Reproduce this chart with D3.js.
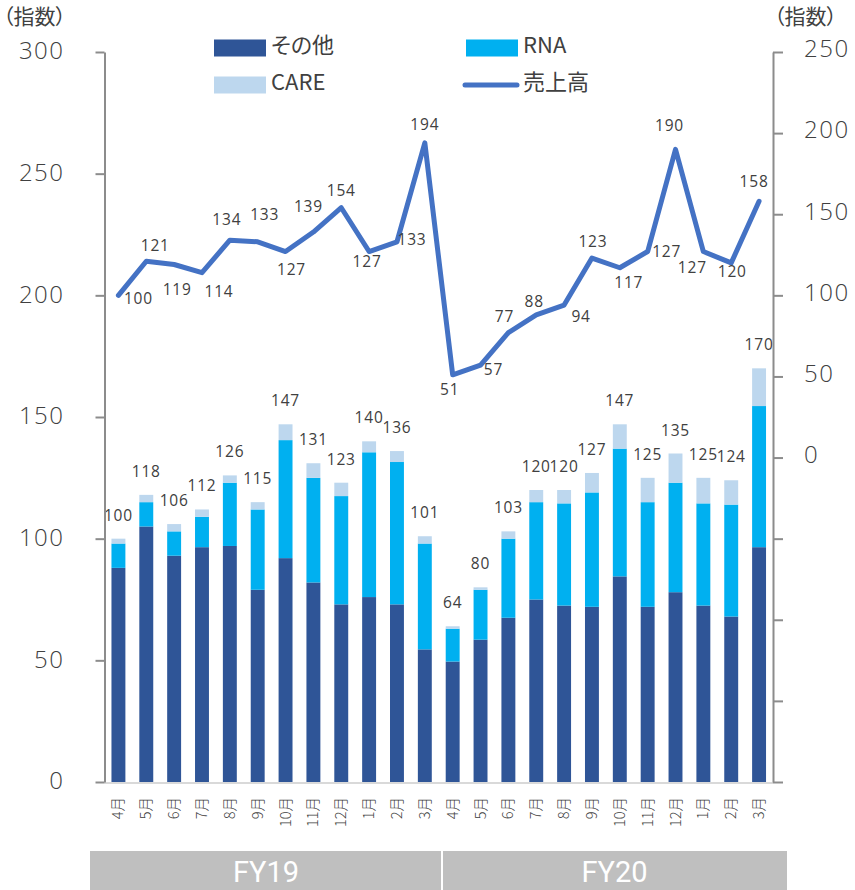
<!DOCTYPE html>
<html lang="ja">
<head>
<meta charset="utf-8">
<script src="https://cdn.jsdelivr.net/npm/d3@7"></script>
<style>
  html, body { margin: 0; padding: 0; background: #fff; }
  svg { display: block; }
  .num { font-family: "Open Sans", "Noto Sans", sans-serif; fill: #404040; }
  .jp { font-family: "Noto Sans CJK JP", sans-serif; fill: #404040; font-feature-settings: "palt"; }
</style>
</head>
<body>
<div id="chart"></div>
<script>
// Monthly categories, two fiscal years
const months = ["4月","5月","6月","7月","8月","9月","10月","11月","12月","1月","2月","3月",
                "4月","5月","6月","7月","8月","9月","10月","11月","12月","1月","2月","3月"];
const fiscalYears = ["FY19", "FY20"];

// Stacked bar segments (index, left axis)
const otherValues = [88, 105, 93, 96.5, 97, 79, 92, 82, 73, 76, 73, 54.5,
                     49.5, 58.5, 67.5, 75, 72.5, 72, 84.5, 72, 78, 72.5, 68, 96.5];
const rnaValues   = [10, 10, 10, 12.5, 26, 33, 48.5, 43, 44.5, 59.5, 58.5, 43.5,
                     13.5, 20.5, 32.5, 40, 42, 47, 52.5, 43, 45, 42, 46, 58];
const careValues  = [2, 3, 3, 3, 3, 3, 6.5, 6, 5.5, 4.5, 4.5, 3,
                     1, 1, 3, 5, 5.5, 8, 10, 10, 12, 10.5, 10, 15.5];
const barTotals   = [100, 118, 106, 112, 126, 115, 147, 131, 123, 140, 136, 101,
                     64, 80, 103, 120, 120, 127, 147, 125, 135, 125, 124, 170];

// Sales index (right axis)
const salesValues = [100, 121, 119, 114, 134, 133, 127, 139, 154, 127, 133, 194,
                     51, 57, 77, 88, 94, 123, 117, 127, 190, 127, 120, 158];

// Tick values
const leftTicks  = [0, 50, 100, 150, 200, 250, 300];
const rightTicks = [-200, -150, -100, -50, 0, 50, 100, 150, 200, 250];

// Where each sales label sits relative to its point
const salesLabelOffsets = [[20,3],[9,-16],[3,25],[17,19],[-3,-21],[7,-27],[6,18],[-5,-25],[0,-17],[-2,10],[15,-2],[0,-18],
                           [-3,15],[13,4],[-4,-16],[-2,-13],[17,12],[1,-16],[9,15],[19,0],[-6,-24],[-11,16],[1,9],[-5,-20]];

const seriesNames = ["その他", "RNA", "CARE"];
const colors = { "その他": "#2F5597", "RNA": "#00B0F0", "CARE": "#BDD7EE", line: "#4472C4" };

const W = 855, H = 890;
const plot = { left: 104.5, right: 773, top: 52, bottom: 782 };

const svg = d3.select("#chart").append("svg").attr("width", W).attr("height", H);

const x = d3.scaleBand().domain(d3.range(months.length))
  .range([plot.left, plot.right]).paddingInner(0.5).paddingOuter(0.25);
const yL = d3.scaleLinear().domain([0, 300]).range([plot.bottom, plot.top]);
const yR = d3.scaleLinear().domain([-200, 250]).range([plot.bottom, plot.top]);

// Stacked data
const rows = months.map((m, i) => ({ i, "その他": otherValues[i], "RNA": rnaValues[i], "CARE": careValues[i] }));
const stacked = d3.stack().keys(seriesNames)(rows);

svg.append("g").selectAll("g").data(stacked).join("g")
  .attr("fill", d => colors[d.key])
  .selectAll("rect").data(d => d).join("rect")
  .attr("x", d => x(d.data.i))
  .attr("width", x.bandwidth())
  .attr("y", d => yL(d[1]))
  .attr("height", d => yL(d[0]) - yL(d[1]));

// Bar total labels
svg.append("g").selectAll("text").data(barTotals).join("text")
  .attr("class", "num")
  .attr("x", (d, i) => x(i) + x.bandwidth() / 2)
  .attr("y", d => yL(d) - 18)
  .attr("text-anchor", "middle")
  .attr("font-size", 15.5)
  .attr("letter-spacing", 0.8)
  .text(d => d);

// Bottom baseline
svg.append("line")
  .attr("x1", plot.left).attr("x2", plot.right)
  .attr("y1", plot.bottom + 1).attr("y2", plot.bottom + 1)
  .attr("stroke", "#d9d9d9").attr("stroke-width", 2);

// Left axis
const axL = svg.append("g").attr("transform", `translate(${plot.left},0)`)
  .call(d3.axisLeft(yL).tickValues(leftTicks).tickSize(9).tickSizeOuter(0).tickPadding(31));
axL.select(".domain").attr("stroke", "#8c8c8c").attr("stroke-width", 2);
axL.selectAll(".tick line").attr("stroke", "#8c8c8c").attr("stroke-width", 2);
axL.selectAll(".tick text").attr("class", "num").attr("font-size", 24).attr("font-weight", 300)
  .attr("letter-spacing", 1.5).attr("fill", "#3a3a3a").attr("dy", "0.28em");

// Right axis (labels only for non-negative values)
const axR = svg.append("g").attr("transform", `translate(${plot.right},0)`)
  .call(d3.axisRight(yR).tickValues(rightTicks).tickSize(10).tickSizeOuter(0).tickPadding(21)
    .tickFormat(d => d >= 0 ? d : ""));
axR.select(".domain").attr("stroke", "#8c8c8c").attr("stroke-width", 2);
axR.selectAll(".tick line").attr("stroke", "#8c8c8c").attr("stroke-width", 2);
axR.selectAll(".tick text").attr("class", "num").attr("font-size", 24).attr("font-weight", 300)
  .attr("letter-spacing", 1.5).attr("fill", "#3a3a3a").attr("dy", "0.2em");

// Sales line
const line = d3.line().x((d, i) => x(i) + x.bandwidth() / 2).y(d => yR(d));
svg.append("path").datum(salesValues)
  .attr("fill", "none").attr("stroke", colors.line).attr("stroke-width", 5)
  .attr("stroke-linejoin", "round").attr("stroke-linecap", "round")
  .attr("d", line);

svg.append("g").selectAll("text").data(salesValues).join("text")
  .attr("class", "num")
  .attr("x", (d, i) => x(i) + x.bandwidth() / 2 + salesLabelOffsets[i][0])
  .attr("y", (d, i) => yR(d) + salesLabelOffsets[i][1])
  .attr("dy", "0.35em")
  .attr("text-anchor", "middle")
  .attr("font-size", 15.5)
  .attr("letter-spacing", 0.8)
  .text(d => d);

// Month labels (rotated)
svg.append("g").selectAll("text").data(months).join("text")
  .attr("class", "jp")
  .attr("transform", (d, i) => `translate(${x(i) + x.bandwidth() / 2 + 5},797) rotate(-90)`)
  .attr("text-anchor", "end")
  .attr("font-size", 14.5)
  .attr("font-weight", 300)
  .attr("fill", "#404040")
  .text(d => d);

// Fiscal year band
const fyX = [90, 442];
const fyWidth = [442 - 90, 787 - 442];
const fyG = svg.append("g");
fyG.selectAll("rect").data(fiscalYears).join("rect")
  .attr("x", (d, i) => fyX[i] + (i ? 1 : 0))
  .attr("y", 851)
  .attr("width", (d, i) => fyWidth[i] - 1)
  .attr("height", 39)
  .attr("fill", "#bfbfbf");
fyG.selectAll("text").data(fiscalYears).join("text")
  .attr("x", (d, i) => fyX[i] + fyWidth[i] / 2)
  .attr("y", 882)
  .attr("text-anchor", "middle")
  .attr("font-family", "'Liberation Sans Narrow', 'Roboto', sans-serif")
  .attr("font-size", 29)
  .attr("fill", "#fff")
  .text(d => d);

// Axis titles
svg.append("text").attr("class", "jp").attr("x", 3).attr("y", 24)
  .attr("font-size", 21).attr("fill", "#404040").text("（指数）");
svg.append("text").attr("class", "jp").attr("x", 774).attr("y", 24)
  .attr("font-size", 21).attr("fill", "#404040").text("（指数）");

// Legend
const legend = svg.append("g");
const legendItems = [
  { name: "その他", type: "rect", color: colors["その他"], x: 214, y: 48 },
  { name: "RNA", type: "rect", color: colors["RNA"], x: 466, y: 48 },
  { name: "CARE", type: "rect", color: colors["CARE"], x: 214, y: 85 },
  { name: "売上高", type: "line", color: colors.line, x: 466, y: 85 }
];
legendItems.forEach(it => {
  if (it.type === "rect") {
    legend.append("rect").attr("x", it.x).attr("y", it.y - 8.5).attr("width", 52).attr("height", 17).attr("fill", it.color);
  } else {
    legend.append("line").attr("x1", it.x - 1).attr("x2", it.x + 51).attr("y1", it.y).attr("y2", it.y)
      .attr("stroke", it.color).attr("stroke-width", 5).attr("stroke-linecap", "round");
  }
  legend.append("text").attr("class", "jp").attr("x", it.x + 57).attr("y", it.y - 3)
    .attr("dy", "0.36em").attr("font-size", 22).attr("fill", "#404040").text(it.name);
});
</script>
</body>
</html>
